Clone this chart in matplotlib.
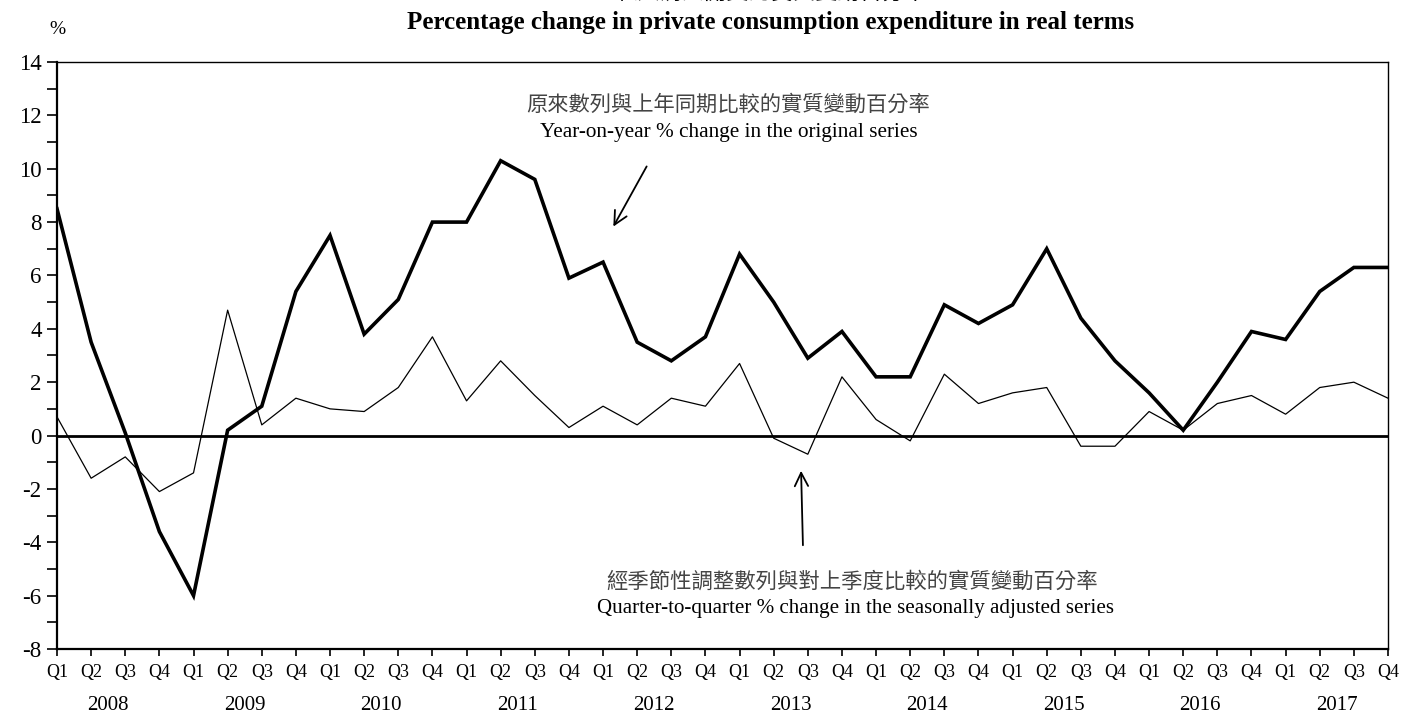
import matplotlib
matplotlib.use("Agg")
import matplotlib.pyplot as plt
from matplotlib.ticker import MultipleLocator, FixedLocator
import matplotlib.transforms as mtransforms

plt.rcParams["axes.unicode_minus"] = False

years = ["2008", "2009", "2010", "2011", "2012", "2013", "2014", "2015", "2016", "2017"]
quarters = ["Q1", "Q2", "Q3", "Q4"]

yoy = [8.5, 3.5, 0.1, -3.6,
       -6.0, 0.2, 1.1, 5.4,
       7.5, 3.8, 5.1, 8.0,
       8.0, 10.3, 9.6, 5.9,
       6.5, 3.5, 2.8, 3.7,
       6.8, 5.0, 2.9, 3.9,
       2.2, 2.2, 4.9, 4.2,
       4.9, 7.0, 4.4, 2.8,
       1.6, 0.2, 2.0, 3.9,
       3.6, 5.4, 6.3, 6.3]

qoq = [0.7, -1.6, -0.8, -2.1,
       -1.4, 4.7, 0.4, 1.4,
       1.0, 0.9, 1.8, 3.7,
       1.3, 2.8, 1.5, 0.3,
       1.1, 0.4, 1.4, 1.1,
       2.7, -0.1, -0.7, 2.2,
       0.6, -0.2, 2.3, 1.2,
       1.6, 1.8, -0.4, -0.4,
       0.9, 0.2, 1.2, 1.5,
       0.8, 1.8, 2.0, 1.4]

title_zh = "私人消費開支的實質變動百分率"
title_en = "Percentage change in private consumption expenditure in real terms"
yoy_zh = "原來數列與上年同期比較的實質變動百分率"
yoy_en = "Year-on-year % change in the original series"
qoq_zh = "經季節性調整數列與對上季度比較的實質變動百分率"
qoq_en = "Quarter-to-quarter % change in the seasonally adjusted series"

SERIF = ["Liberation Serif", "DejaVu Serif"]
CJK = ["Noto Sans CJK TC", "DejaVu Sans"]

W, H = 1403, 713
fig = plt.figure(figsize=(W / 100, H / 100), dpi=100)
L, R, T, B = 57, 1388, 62, 649
ax = fig.add_axes([L / W, 1 - B / H, (R - L) / W, (B - T) / H])

x = list(range(len(yoy)))
ax.axhline(0, color="black", lw=2.0, zorder=2)
ax.plot(x, qoq, color="black", lw=0.9, zorder=3)
ax.plot(x, yoy, color="black", lw=2.6, zorder=4, solid_joinstyle="miter")

ax.set_xlim(0, len(yoy) - 1)
ax.set_ylim(-8, 14)
ax.yaxis.set_major_locator(MultipleLocator(2))
ax.yaxis.set_minor_locator(MultipleLocator(1))
ax.tick_params(axis="y", which="both", direction="out", length=7, width=1.2,
               labelsize=16.5, pad=4)
for lab in ax.get_yticklabels():
    lab.set_family(SERIF)

ax.xaxis.set_major_locator(FixedLocator(x))
qlabels = [quarters[i % 4] for i in x]
ax.set_xticklabels(qlabels, family=SERIF, fontsize=13)
ax.tick_params(axis="x", which="major", direction="out", length=5, width=1.2, pad=6)

for s in ["left", "bottom"]:
    ax.spines[s].set_linewidth(1.6)
for s in ["top", "right"]:
    ax.spines[s].set_linewidth(1.0)

trans = mtransforms.blended_transform_factory(ax.transData, fig.transFigure)
for i, yr in enumerate(years):
    ax.text(i * 4 + 1.5, 1 - 705 / H, yr, transform=trans, ha="center", va="center",
            family=SERIF, fontsize=15)

# titles
fig.text(771 / W, 1 + 8 / H, title_zh, ha="center", va="center", family=CJK, fontsize=16)
fig.text(771 / W, 1 - 22 / H, title_en, ha="center", va="center", family=SERIF,
         fontsize=18, fontweight="bold")
fig.text(57 / W, 1 - 29 / H, "%", ha="center", va="center", family=SERIF, fontsize=14)

def fx(px):
    return px / W

def fy(py):
    return 1 - py / H

fig.text(fx(728), fy(105), yoy_zh, ha="center", va="center", family=CJK, fontsize=15.3,
         color="#444444")
fig.text(fx(729), fy(132), yoy_en, ha="center", va="center", family=SERIF, fontsize=15.3)
fig.text(fx(852), fy(582), qoq_zh, ha="center", va="center", family=CJK, fontsize=15.4,
         color="#444444")
fig.text(fx(855), fy(608), qoq_en, ha="center", va="center", family=SERIF, fontsize=15.1)

arrow = dict(arrowstyle="->", color="black", lw=1.3, mutation_scale=24)
ax.annotate("", xy=(fx(612), fy(229)), xycoords="figure fraction",
            xytext=(fx(648), fy(164)), textcoords="figure fraction", arrowprops=arrow)
ax.annotate("", xy=(fx(801), fy(468)), xycoords="figure fraction",
            xytext=(fx(803), fy(548)), textcoords="figure fraction", arrowprops=arrow)

fig.savefig("out.png", dpi=100)
